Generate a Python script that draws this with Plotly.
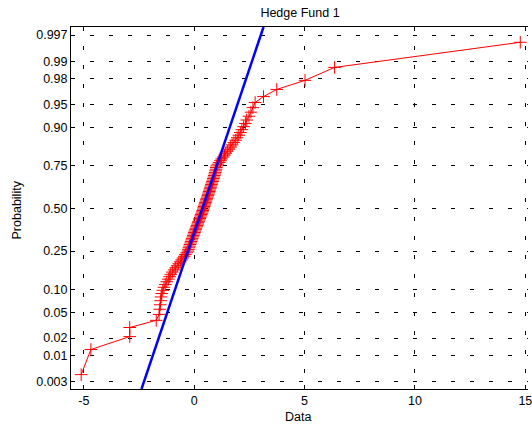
import numpy as np
import plotly.graph_objects as go
from statistics import NormalDist

title_text = "Hedge Fund 1"
x_label = "Data"
y_label = "Probability"

# sorted sample values
data_sorted = [
    -5.12, -4.68, -2.92, -2.92, -1.72, -1.59, -1.56, -1.54, -1.52, -1.50,
    -1.47, -1.42, -1.37, -1.31, -1.24, -1.17, -1.11, -1.06, -0.99, -0.91,
    -0.84, -0.77, -0.70, -0.63, -0.57, -0.51, -0.45, -0.40, -0.34, -0.28,
    -0.26, -0.24, -0.21, -0.19, -0.16, -0.14, -0.11, -0.09, -0.06, -0.04,
    -0.01, 0.01, 0.03, 0.06, 0.08, 0.11, 0.13, 0.16, 0.18, 0.20,
    0.23, 0.25, 0.28, 0.30, 0.32, 0.35, 0.37, 0.39, 0.41, 0.43,
    0.45, 0.47, 0.49, 0.51, 0.53, 0.55, 0.57, 0.60, 0.62, 0.64,
    0.66, 0.68, 0.70, 0.72, 0.74, 0.76, 0.78, 0.80, 0.83, 0.85,
    0.87, 0.89, 0.91, 0.93, 0.95, 0.97, 0.99, 1.00, 1.02, 1.07,
    1.13, 1.19, 1.24, 1.31, 1.37, 1.43, 1.50, 1.58, 1.65, 1.72,
    1.80, 1.88, 1.95, 2.02, 2.09, 2.16, 2.24, 2.32, 2.38, 2.48,
    2.57, 2.66, 2.76, 3.14, 3.74, 5.02, 6.36, 14.77,
]

prob_ticks = [0.003, 0.01, 0.02, 0.05, 0.10, 0.25, 0.50, 0.75, 0.90, 0.95, 0.98, 0.99, 0.997]
prob_labels = ["0.003", "0.01", "0.02", "0.05", "0.10", "0.25", "0.50",
               "0.75", "0.90", "0.95", "0.98", "0.99", "0.997"]
x_ticks = [-5, 0, 5, 10, 15]
x_range = [-5.58, 15.12]
z_range = [-2.86, 2.875]

nd = NormalDist()
n = len(data_sorted)
pp = [(i + 0.5) / n for i in range(n)]
zz = [nd.inv_cdf(p) for p in pp]

# reference line through the quartiles (normplot style)
q1 = float(np.interp(0.25, pp, data_sorted))
q3 = float(np.interp(0.75, pp, data_sorted))
z1, z3 = nd.inv_cdf(0.25), nd.inv_cdf(0.75)
slope = (q3 - q1) / (z3 - z1)
line_z = z_range
line_x = [q1 + (zv - z1) * slope for zv in line_z]

fnt = "Liberation Sans, Arial, sans-serif"

fig = go.Figure()
fig.add_trace(go.Scatter(
    x=data_sorted, y=zz, mode="lines+markers",
    line=dict(color="#ff0000", width=1),
    marker=dict(symbol="cross-thin", size=9, color="#ff0000",
                line=dict(color="#ff0000", width=1)),
    showlegend=False,
))
fig.add_trace(go.Scatter(
    x=line_x, y=line_z, mode="lines",
    line=dict(color="#0000ff", width=2.5),
    showlegend=False,
))

fig.update_layout(
    width=532, height=430,
    margin=dict(l=71, r=0, t=27, b=41),
    paper_bgcolor="white", plot_bgcolor="white",
    font=dict(family=fnt, size=12.5, color="black"),
    title=dict(text=title_text, x=300 / 532, xref="container", xanchor="center",
               y=1 - 12.5 / 430, yref="container", yanchor="middle",
               font=dict(family=fnt, size=12.5, color="black")),
    showlegend=False,
)

fig.update_xaxes(
    range=x_range, tickvals=x_ticks, ticktext=[str(v) for v in x_ticks],
    showline=True, linecolor="black", linewidth=1, mirror="ticks",
    ticks="inside", ticklen=4, tickcolor="black", ticklabeloverflow="allow",
    showgrid=True, gridcolor="black", gridwidth=1, griddash="4px,15px",
    zeroline=False,
)
fig.update_yaxes(
    range=z_range, tickvals=[nd.inv_cdf(p) for p in prob_ticks], ticktext=prob_labels,
    showline=True, linecolor="black", linewidth=1, mirror=False,
    ticks="inside", ticklen=4, tickcolor="black",
    showgrid=True, gridcolor="black", gridwidth=1, griddash="4px,15px",
    zeroline=False,
)

fig.add_annotation(text=x_label, xref="paper", yref="paper",
                   x=(300 - 71) / 461, y=-(417 - 389) / 362,
                   xanchor="center", yanchor="middle", showarrow=False,
                   font=dict(family=fnt, size=12.5, color="black"))
fig.add_annotation(text=y_label, xref="paper", yref="paper",
                   x=-(71 - 17) / 461, y=(389 - 210) / 362,
                   xanchor="center", yanchor="middle", showarrow=False, textangle=-90,
                   font=dict(family=fnt, size=12.5, color="black"))

fig.write_html("out.html")
